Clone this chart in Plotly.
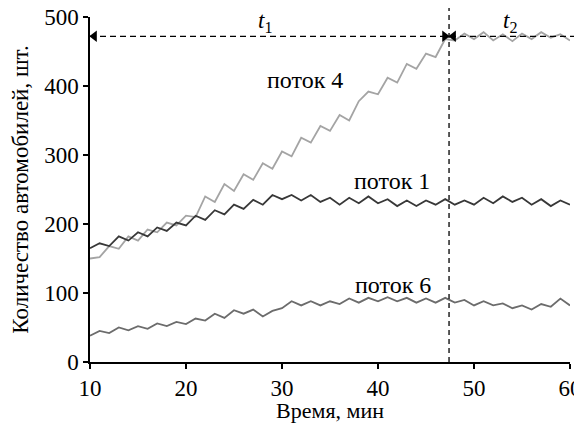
import plotly.graph_objects as go

# time, minutes
time_min = list(range(10, 61))

flow_1 = [165, 172, 168, 182, 176, 188, 182, 195, 190, 202,
          198, 212, 206, 220, 214, 228, 222, 235, 228, 242,
          236, 242, 234, 242, 232, 238, 228, 238, 230, 240,
          230, 236, 226, 234, 226, 234, 228, 236, 228, 234,
          228, 238, 230, 240, 232, 238, 228, 236, 226, 234, 228]

flow_4 = [150, 152, 168, 164, 182, 176, 192, 188, 202, 198,
          212, 210, 240, 232, 258, 248, 272, 264, 288, 280,
          305, 298, 325, 318, 342, 335, 358, 350, 378, 392,
          388, 412, 405, 432, 425, 447, 442, 468, 466, 476,
          468, 478, 466, 475, 465, 476, 468, 478, 470, 475, 466]

flow_6 = [38, 45, 42, 50, 46, 52, 48, 56, 52, 58,
          55, 63, 60, 70, 64, 75, 70, 76, 66, 74,
          78, 88, 82, 88, 82, 88, 84, 92, 86, 93,
          88, 94, 88, 93, 86, 92, 86, 93, 86, 90,
          82, 88, 82, 85, 78, 82, 76, 84, 80, 92, 82]

x_ticks = [10, 20, 30, 40, 50, 60]
y_ticks = [0, 100, 200, 300, 400, 500]
x_range = [10, 60]
y_range = [0, 500]

t_switch = 47.4      # boundary between t1 and t2
level = 472          # saturation level of flow 4

FONT = "Liberation Serif"

fig = go.Figure()
fig.add_trace(go.Scatter(x=time_min, y=flow_4, mode="lines", name="поток 4",
                         line=dict(color="#a4a4a4", width=1.8)))
fig.add_trace(go.Scatter(x=time_min, y=flow_1, mode="lines", name="поток 1",
                         line=dict(color="#383838", width=1.8)))
fig.add_trace(go.Scatter(x=time_min, y=flow_6, mode="lines", name="поток 6",
                         line=dict(color="#6c6c6c", width=1.8)))

def px(t):
    return (t - x_range[0]) / (x_range[1] - x_range[0])

def py(v):
    return (v - y_range[0]) / (y_range[1] - y_range[0])

# dashed lines
fig.add_shape(type="line", xref="paper", yref="paper",
              x0=px(t_switch), x1=px(t_switch), y0=0, y1=1.026,
              line=dict(color="black", width=1.3, dash="5px,4px"))
fig.add_shape(type="line", xref="paper", yref="paper",
              x0=0, x1=1.017, y0=py(level), y1=py(level),
              line=dict(color="black", width=1.3, dash="6px,4px"))

# arrowheads
fig.add_trace(go.Scatter(
    x=[x_range[0] + 0.45, t_switch - 0.45, t_switch + 0.45],
    y=[level, level, level], mode="markers", cliponaxis=False,
    marker=dict(symbol=["triangle-left", "triangle-right", "triangle-left"],
                size=10, color="black"),
    hoverinfo="skip"))

# labels
labels = [("поток 4", 32.4, 409), ("поток 1", 41.5, 263), ("поток 6", 41.6, 112)]
for txt, xl, yl in labels:
    fig.add_annotation(x=xl, y=yl, text=txt, showarrow=False,
                       font=dict(family=FONT, size=24, color="black"))
fig.add_annotation(x=28.2, y=493, text="<i>t</i><sub>1</sub>", showarrow=False,
                   font=dict(family=FONT, size=23, color="black"))
fig.add_annotation(x=53.8, y=493, text="<i>t</i><sub>2</sub>", showarrow=False,
                   font=dict(family=FONT, size=23, color="black"))

axis_common = dict(showgrid=False, zeroline=False, showline=True,
                   linecolor="black", linewidth=1.5, ticks="outside",
                   ticklen=5, tickwidth=1.5, tickcolor="black",
                   automargin=False, ticklabeloverflow="allow",
                   tickfont=dict(family=FONT, size=23, color="black"))

fig.update_xaxes(range=x_range, tickvals=x_ticks,
                 title=dict(text="Время, мин", standoff=2,
                            font=dict(family=FONT, size=22, color="black")),
                 **axis_common)
fig.update_yaxes(range=y_range, tickvals=y_ticks,
                 title=dict(text="Количество автомобилей, шт.", standoff=10,
                            font=dict(family=FONT, size=23, color="black")),
                 **axis_common)

# the page body adds an 8px offset, so the figure is 8px smaller than the window
fig.update_layout(width=574, height=415, showlegend=False,
                  plot_bgcolor="white", paper_bgcolor="white",
                  margin=dict(l=82, r=12, t=9, b=61))

fig.write_html("out.html")
